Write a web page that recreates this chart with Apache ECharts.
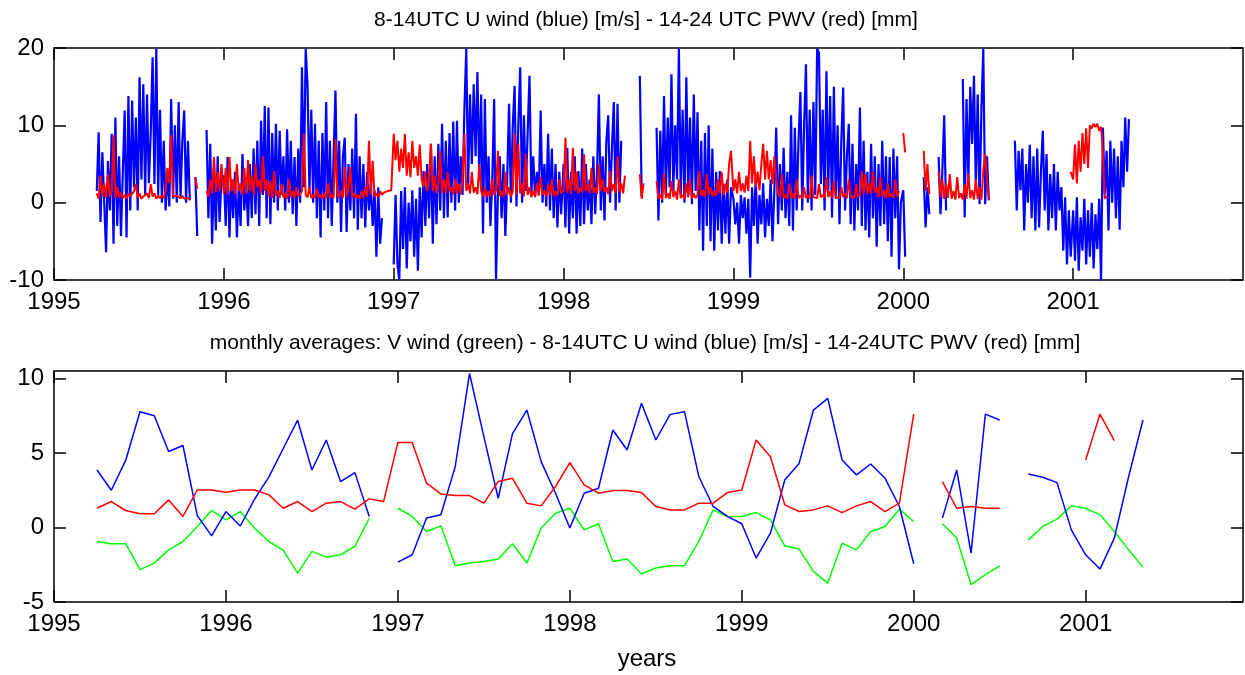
<!DOCTYPE html>
<html>
<head>
<meta charset="utf-8">
<title>U wind and PWV</title>
<script src="https://cdn.jsdelivr.net/npm/echarts@6/dist/echarts.min.js"></script>
<style>
  html, body { margin: 0; padding: 0; background: #fff; }
  #chart { width: 1245px; height: 675px; }
</style>
</head>
<body>
<div id="chart"></div>
<script>
const _ = null;

// Axis ticks
const yearTicks = [1995, 1996, 1997, 1998, 1999, 2000, 2001];
const dailyYTicks = [-10, 0, 10, 20];
const monthlyYTicks = [-5, 0, 5, 10];

// 8-14 UTC U wind [m/s], one value every 4 days from 1 January of each year
const uWind1995 = [
  _,_,_,_,_,_,_,_,_,_,
  _,_,_,_,_,_,_,_,_,_,
  _,_,_,1.5,9.1,-2.5,6.5,0,-6.4,5.4,
  -1,8.9,-5.3,11,-3,6,-4.3,4,11.9,-4.5,
  13.8,-1,13.2,2,11,-1,16.2,3,15.3,1.1,
  14,2.5,9,18.8,2.4,19.9,1,12,0,8,
  -1,4,-0.5,13.4,0.5,10,0,13,0.5,8,
  11.9,0,8,0.3,_,_,3.3,-4.3,_,_,
  _,_,9.4,-2,7.6,-5.3,4,-3.6,6,-2.5,
  3
];
const uWind1996 = [
  3.5,-3,5.9,-4.5,3,-2,4,-4.5,2,-3,
  6.3,-1,3,-3,5,-2,7,-1.5,8,-3,
  10.6,1,12.5,-2,12.3,-2.8,9,0,10.2,-1,
  9.3,1,6,-1,9.5,0,8,-1.5,5.9,-3,
  7,0,17.5,2,19.9,15,1.5,12,0,10.2,
  -2,8,-4.5,9,-1,13,-2,8,-3,6,
  14.5,0,8,-3.8,6,8.4,-3.8,5,-1,7,
  -2,11.5,-3.5,6,-2,5,-3.2,4,-1,2.4,
  -3,1.6,-7,2,-5.3,-2,_,_,_,_,
  _
];
const uWind1997 = [
  -8,1,-7.9,-10,1.5,-6,2,-8.5,0,-5,
  1.6,-7,0.5,-8.8,2,-4.5,4.1,-3,5,-2,
  7.6,-5.3,6,-2.8,7.6,-1,10.2,-2,8,-1.9,
  9,0,10.5,-1,10.6,0,6,1,12,19.9,
  2,14,5,15.3,6,16.9,3,14,-4,13.4,
  0,6,-3,3,13.4,-9.9,1,6,-2,5,
  -4.3,3,12.8,0,10,15.1,-0.5,10,17.5,0,
  11.3,1.5,9,16.4,1,6,0.7,4,1,11.9,
  0,5,-0.5,8.9,-1,7,-2,5,-3.2,4,
  -1.5
];
const uWind1998 = [
  5,-3.2,7.1,-4,4,-2,6,-4,4.1,-3,
  7,-2.8,5,-1,3,-2.8,6,-1.5,4,14,
  -1,6,-2.3,8,11.3,0,7,13,-1,12.8,
  0,8,_,_,_,_,_,_,_,_,
  _,16.4,0.7,_,_,_,_,_,_,_,
  9.7,-2.3,9.3,0,13.8,1,11,2,16.6,1.5,
  10,3,19.9,1,12,0,16.2,1,11,-0.2,
  14,1.5,11.7,-3.6,8,-6.2,9,-3,10,-5,
  7,-6.2,4,-3.6,4.1,-5.3,2.4,-4,3,-5.3,
  2
];
const uWind1999 = [
  0.5,-2.8,0,-5.3,1,-2,0.7,-4,0.5,-9.7,
  2,-3,3.3,-5.3,1,-2.8,2.5,-4.5,0.5,-3,
  3,-5,1.5,9.7,-2.8,5,-1,7.1,-2,4,
  -3,11.3,-3.6,9.7,-1,8,14.3,-1,10,17.9,
  0,12,-1,13,1,19.9,19.4,2.4,12,-1,
  17,1.6,13.8,-1.9,15,0.5,10,-2.8,8,14.9,
  -1,6,10.2,-2.8,7.6,-3.6,5,-1,12.3,-3,
  8,-3.6,4,-4.5,7.6,-2,6,-5.7,5,-3,
  8,-2.8,6,-5,5.9,-7,7,-2,6,-8.6,
  0
];
const uWind2000 = [
  1.6,-7,_,_,_,_,_,_,_,_,
  _,3.3,-3.2,2,-1.5,_,_,_,_,5.9,
  -1.5,4,11.3,-1,_,_,_,_,_,_,
  _,_,16,-1.9,13.4,3,15,7.6,16.4,2,
  14,-0.2,12,19.9,-0.2,6,0.3,_,_,_,
  _,_,_,_,_,_,_,_,_,_,
  8,-1,6.7,1.6,7,-3.6,5,0,7.5,-2,
  6,-3.6,7,-3.2,4,9.3,-1,6.3,-3.6,3.7,
  -2,5,-3.6,4,-1,2,-6.2,0.7,-8,-1,
  -7
];
const uWind2001 = [
  -1,-7.5,0.7,-8.8,-1.9,-6.2,0.5,-8,-1,-7,
  0,-8.5,-1.5,-6,0.5,-10.1,9.7,1.1,6.7,-3.6,
  8,0,7,-2,6,-3.5,8,2,11,4,
  10.8
];

// 14-24 UTC precipitable water vapour [mm], same sampling
const pwv1995 = [
  _,_,_,_,_,_,_,_,_,_,
  _,_,_,_,_,_,_,_,_,_,
  _,_,_,1.2,0.5,3.5,0.8,2.5,0.6,3.7,
  0.8,1.5,8.7,0.6,2,0.7,1.3,0.6,1,0.5,
  1.2,0.8,0.6,1.5,2.4,0.6,1.2,0.5,0.8,0.6,
  1.2,0.6,2.4,0.8,1.2,0.5,0.9,0.6,0.9,0.6,
  1.5,4.5,2.5,8.7,0.8,0.6,0.9,0.7,0.6,0.9,
  0.5,0.7,0.6,0.4,_,_,3.3,1.8,_,_,
  _,_,1.5,0.8,3,1.2,5.9,1.4,4,1.5,
  5
];
const pwv1996 = [
  1.2,4.5,1,5.9,1.5,3,1.1,5,1.5,2.5,
  1,4.5,1.2,5.5,1.5,3.5,1,5,2,3,
  1.2,6,1.5,3,0.8,2.8,0.6,4.1,0.9,1.5,
  0.6,2.4,0.7,1.2,0.5,3,0.7,1.5,0.6,2,
  0.8,1,1.5,8.9,1,0.7,2,0.6,1,0.6,
  1.8,0.7,1,0.5,1.2,0.6,2.5,0.7,1,0.6,
  8.2,1,0.7,1.5,0.6,4.6,0.8,2,4.6,0.7,
  1.2,0.6,1,0.5,1.5,0.6,2,0.8,8,1,
  5.4,0.8,1.2,0.7,1.5,1,1.3,1.2,1.5,1.3,
  1.6
];
const pwv1997 = [
  8.9,5.5,8,4,7,4.5,8.9,3.5,6.5,3.3,
  8,4.5,6,3.5,7.5,3,2,4,1.5,3,
  7.6,1.5,3.5,1.2,2.5,6.7,1.3,3,1.2,4,
  1.5,2,1.1,3,1.2,2.4,1.1,3,8.9,1.5,
  2.5,1.2,4,1.3,2,1.1,5,1.5,0.8,2,
  0.7,1.5,0.8,3,1,1.6,6.7,0.9,1.5,0.7,
  4,1,2,0.8,1.5,8.9,1,7.6,1.2,2.5,
  0.8,6.3,1,2,0.7,1.5,0.8,2.5,0.9,3.3,
  1,1.5,0.8,2.4,1,3,0.8,1.5,0.9,3,
  1.2
];
const pwv1998 = [
  1.5,8.4,1.3,3,1.1,7.1,1.5,4,1.2,2,
  1.3,6.3,1.5,2.4,1.2,4.5,1.3,2,1.1,5,
  1.5,3,1.4,2,1.1,4.1,1.5,2.4,1.2,6,
  1.4,2.5,1.2,3.5,_,_,_,_,_,_,
  _,3.7,0.5,2.5,_,_,_,_,_,_,
  2.8,0.5,1,0.4,3.7,0.6,1.2,0.5,2.8,0.7,
  1.5,0.4,3,0.6,1,0.5,2.5,0.7,3,0.5,
  1.2,0.6,1,4.1,0.9,1.6,0.7,3.7,1,2,
  0.8,1.5,0.9,3,1.2,4,1,2.5,1.3,5,
  6.7
];
const pwv1999 = [
  1.5,3,1.2,4,1.5,2.5,1.3,3.5,1.5,8,
  2.5,6,2,4,1.6,5,7.6,3,6.7,3,
  5.5,2.4,6,3,1.2,0.7,3.7,0.6,1,0.5,
  2.5,0.7,1.2,0.5,3,0.6,0.9,0.5,2,0.6,
  1,0.5,3.5,0.7,0.9,0.6,2.4,0.7,1,0.6,
  3.3,0.7,1.5,0.6,2.8,0.7,0.9,0.6,2,0.7,
  1.2,0.6,3,0.8,1,0.6,2.4,0.7,1,4.1,
  1.1,3.7,1.2,2.5,1.1,4,1.3,2,0.7,3.3,
  0.8,1.6,0.6,2.5,0.7,1.2,0.6,3,0.8,1.5,
  _
];
const pwv2000 = [
  9,6.5,_,_,_,_,_,_,_,_,
  _,6.7,1.5,5,1.1,_,_,_,_,4,
  0.7,3,0.5,2.5,0.6,3.7,0.5,1.5,0.4,3.3,
  0.6,1.2,0.4,2.4,0.5,3.7,0.6,1.6,0.4,3,
  0.5,2,0.4,4.1,6.3,3,0.4,_,_,_,
  _,_,_,_,_,_,_,_,_,_,
  _,_,_,_,_,_,_,_,_,_,
  _,_,_,_,_,_,_,_,_,_,
  _,_,_,_,_,_,_,_,_,_,
  4
];
const pwv2001 = [
  3,7.5,2.5,8,4,9,5,9.6,4.5,10,
  9.6,10.2,9.8,10.2,9.3,9.8,6.3,0.5,0.8
];

// Monthly averages, April 1995 to May 2001
const monthlyVWind = [
  -0.94,-1.09,-1.09,-2.83,-2.39,-1.5,-0.94,0.07,1.14,
  0.51,1.07,-0.04,-0.94,-1.54,-3.06,-1.6,-1.99,-1.83,-1.27,0.62,_,
  1.29,0.74,-0.27,0.11,-2.57,-2.39,-2.28,-2.12,-1.09,-2.39,-0.04,0.96,
  1.29,-0.16,0.25,-2.28,-2.12,-3.1,-2.72,-2.57,-2.57,-0.94,1.18,0.74,
  0.74,1.0,0.51,-1.23,-1.45,-2.95,-3.73,-1.05,-1.5,-0.27,0.07,1.23,
  0.4,_,0.25,-0.71,-3.84,-3.17,-2.57,_,-0.83,0.07,0.56,1.45,
  1.29,0.85,-0.27,-1.5,-2.66
];
const monthlyUWind = [
  3.86,2.5,4.5,7.77,7.5,5.1,5.5,0.8,-0.56,
  1.07,0.1,1.9,3.4,5.3,7.2,3.86,5.87,3.08,3.68,0.74,_,
  -2.32,-1.83,0.63,0.85,4.08,10.33,6.1,1.96,6.3,7.88,4.42,2.3,
  -0.04,2.3,2.63,6.54,5.2,8.33,5.87,7.59,7.77,3.42,1.41,0.74,
  0.25,-2.05,-0.38,3.19,4.3,7.88,8.66,4.53,3.53,4.26,3.3,1.41,
  -2.43,_,0.63,3.86,-1.72,7.61,7.21,_,3.59,3.37,3.01,-0.16,
  -1.83,-2.79,-0.71,3.42,7.21
];
const monthlyPwv = [
  1.29,1.74,1.14,0.92,0.92,1.85,0.74,2.52,2.52,
  2.37,2.52,2.52,2.19,1.29,1.74,1.07,1.63,1.74,1.23,1.92,1.74,
  5.7,5.7,2.97,2.25,2.14,2.14,1.63,3.08,3.3,1.63,1.45,2.75,
  4.35,2.86,2.3,2.48,2.48,2.34,1.41,1.18,1.18,1.63,1.63,2.34,
  2.52,5.87,4.75,1.52,1.07,1.18,1.45,1.0,1.45,1.74,1.07,1.63,
  7.61,_,3.08,1.29,1.41,1.29,1.29,_,_,_,_,_,
  4.53,7.61,5.83,_,_
];

const STEP = 4 / 365.25;          // daily series sampling, in years
const FIRST_MONTH = 1995 + 3 / 12; // April 1995
const FONT = '"Liberation Sans", Arial, sans-serif';

function dailyPoints(firstYear, years) {
  const pts = [];
  years.forEach((arr, k) => {
    arr.forEach((v, i) => pts.push([firstYear + k + i * STEP, v === null ? '-' : v]));
  });
  return pts;
}
function monthlyPoints(arr) {
  return arr.map((v, j) => [FIRST_MONTH + j / 12, v === null ? '-' : v]);
}

const tickStyle = { color: '#000', width: 1.5 };
function xAxisFor(gridIndex, max, position, labels) {
  return {
    type: 'value', gridIndex, min: 1995, max, position,
    axisLine: { show: false, onZero: false },
    axisTick: { show: true, inside: true, length: 12, customValues: yearTicks, lineStyle: tickStyle },
    axisLabel: { show: labels, customValues: yearTicks, formatter: v => String(v),
                 fontSize: 24, fontFamily: FONT, color: '#000', margin: 10 },
    splitLine: { show: false }
  };
}
function yAxisFor(gridIndex, min, max, ticks, position, labels) {
  return {
    type: 'value', gridIndex, min, max, position,
    axisLine: { show: false, onZero: false },
    axisTick: { show: true, inside: true, length: 12, customValues: ticks, lineStyle: tickStyle },
    axisLabel: { show: labels, customValues: ticks, formatter: v => String(v),
                 fontSize: 24, fontFamily: FONT, color: '#000', margin: 10 },
    splitLine: { show: false }
  };
}

const gridBox = { show: true, borderColor: '#000', borderWidth: 1.5, backgroundColor: '#fff' };

function line(name, data, color, xi, yi, width) {
  return {
    name, type: 'line', data, xAxisIndex: xi, yAxisIndex: yi,
    showSymbol: false, connectNulls: false, clip: true,
    lineStyle: { color, width }, emphasis: { disabled: true }
  };
}

const chart = echarts.init(document.getElementById('chart'), null, { renderer: 'canvas' });
chart.setOption({
  animation: false,
  backgroundColor: '#fff',
  grid: [
    Object.assign({ left: 54, top: 48, width: 1189, height: 232 }, gridBox),
    Object.assign({ left: 54, top: 371, width: 1189, height: 231 }, gridBox)
  ],
  xAxis: [
    xAxisFor(0, 2002, 'bottom', true),
    xAxisFor(0, 2002, 'top', false),
    xAxisFor(1, 2001.915, 'bottom', true),
    xAxisFor(1, 2001.915, 'top', false)
  ],
  yAxis: [
    yAxisFor(0, -10, 20, dailyYTicks, 'left', true),
    yAxisFor(0, -10, 20, dailyYTicks, 'right', false),
    yAxisFor(1, -5, 10.5, monthlyYTicks, 'left', true),
    yAxisFor(1, -5, 10.5, monthlyYTicks, 'right', false)
  ],
  graphic: [
    { type: 'text', x: 646, y: 20, silent: true,
      style: { text: '8-14UTC U wind (blue) [m/s] - 14-24 UTC PWV (red) [mm]',
               fontSize: 21, fontFamily: FONT, fill: '#000', align: 'center', verticalAlign: 'middle' } },
    { type: 'text', x: 645, y: 343, silent: true,
      style: { text: 'monthly averages: V wind (green) - 8-14UTC U wind (blue) [m/s] - 14-24UTC PWV (red) [mm]',
               fontSize: 21, fontFamily: FONT, fill: '#000', align: 'center', verticalAlign: 'middle' } },
    { type: 'text', x: 647, y: 659, silent: true,
      style: { text: 'years', fontSize: 24, fontFamily: FONT, fill: '#000', align: 'center', verticalAlign: 'middle' } }
  ],
  series: [
    line('U wind', dailyPoints(1995, [uWind1995, uWind1996, uWind1997, uWind1998, uWind1999, uWind2000, uWind2001]), '#0000ff', 0, 0, 2.2),
    line('PWV', dailyPoints(1995, [pwv1995, pwv1996, pwv1997, pwv1998, pwv1999, pwv2000, pwv2001]), '#ff0000', 0, 0, 2),
    line('V wind monthly', monthlyPoints(monthlyVWind), '#00ff00', 2, 2, 1.5),
    line('U wind monthly', monthlyPoints(monthlyUWind), '#0000ff', 2, 2, 1.5),
    line('PWV monthly', monthlyPoints(monthlyPwv), '#ff0000', 2, 2, 1.5)
  ]
});
</script>
</body>
</html>
